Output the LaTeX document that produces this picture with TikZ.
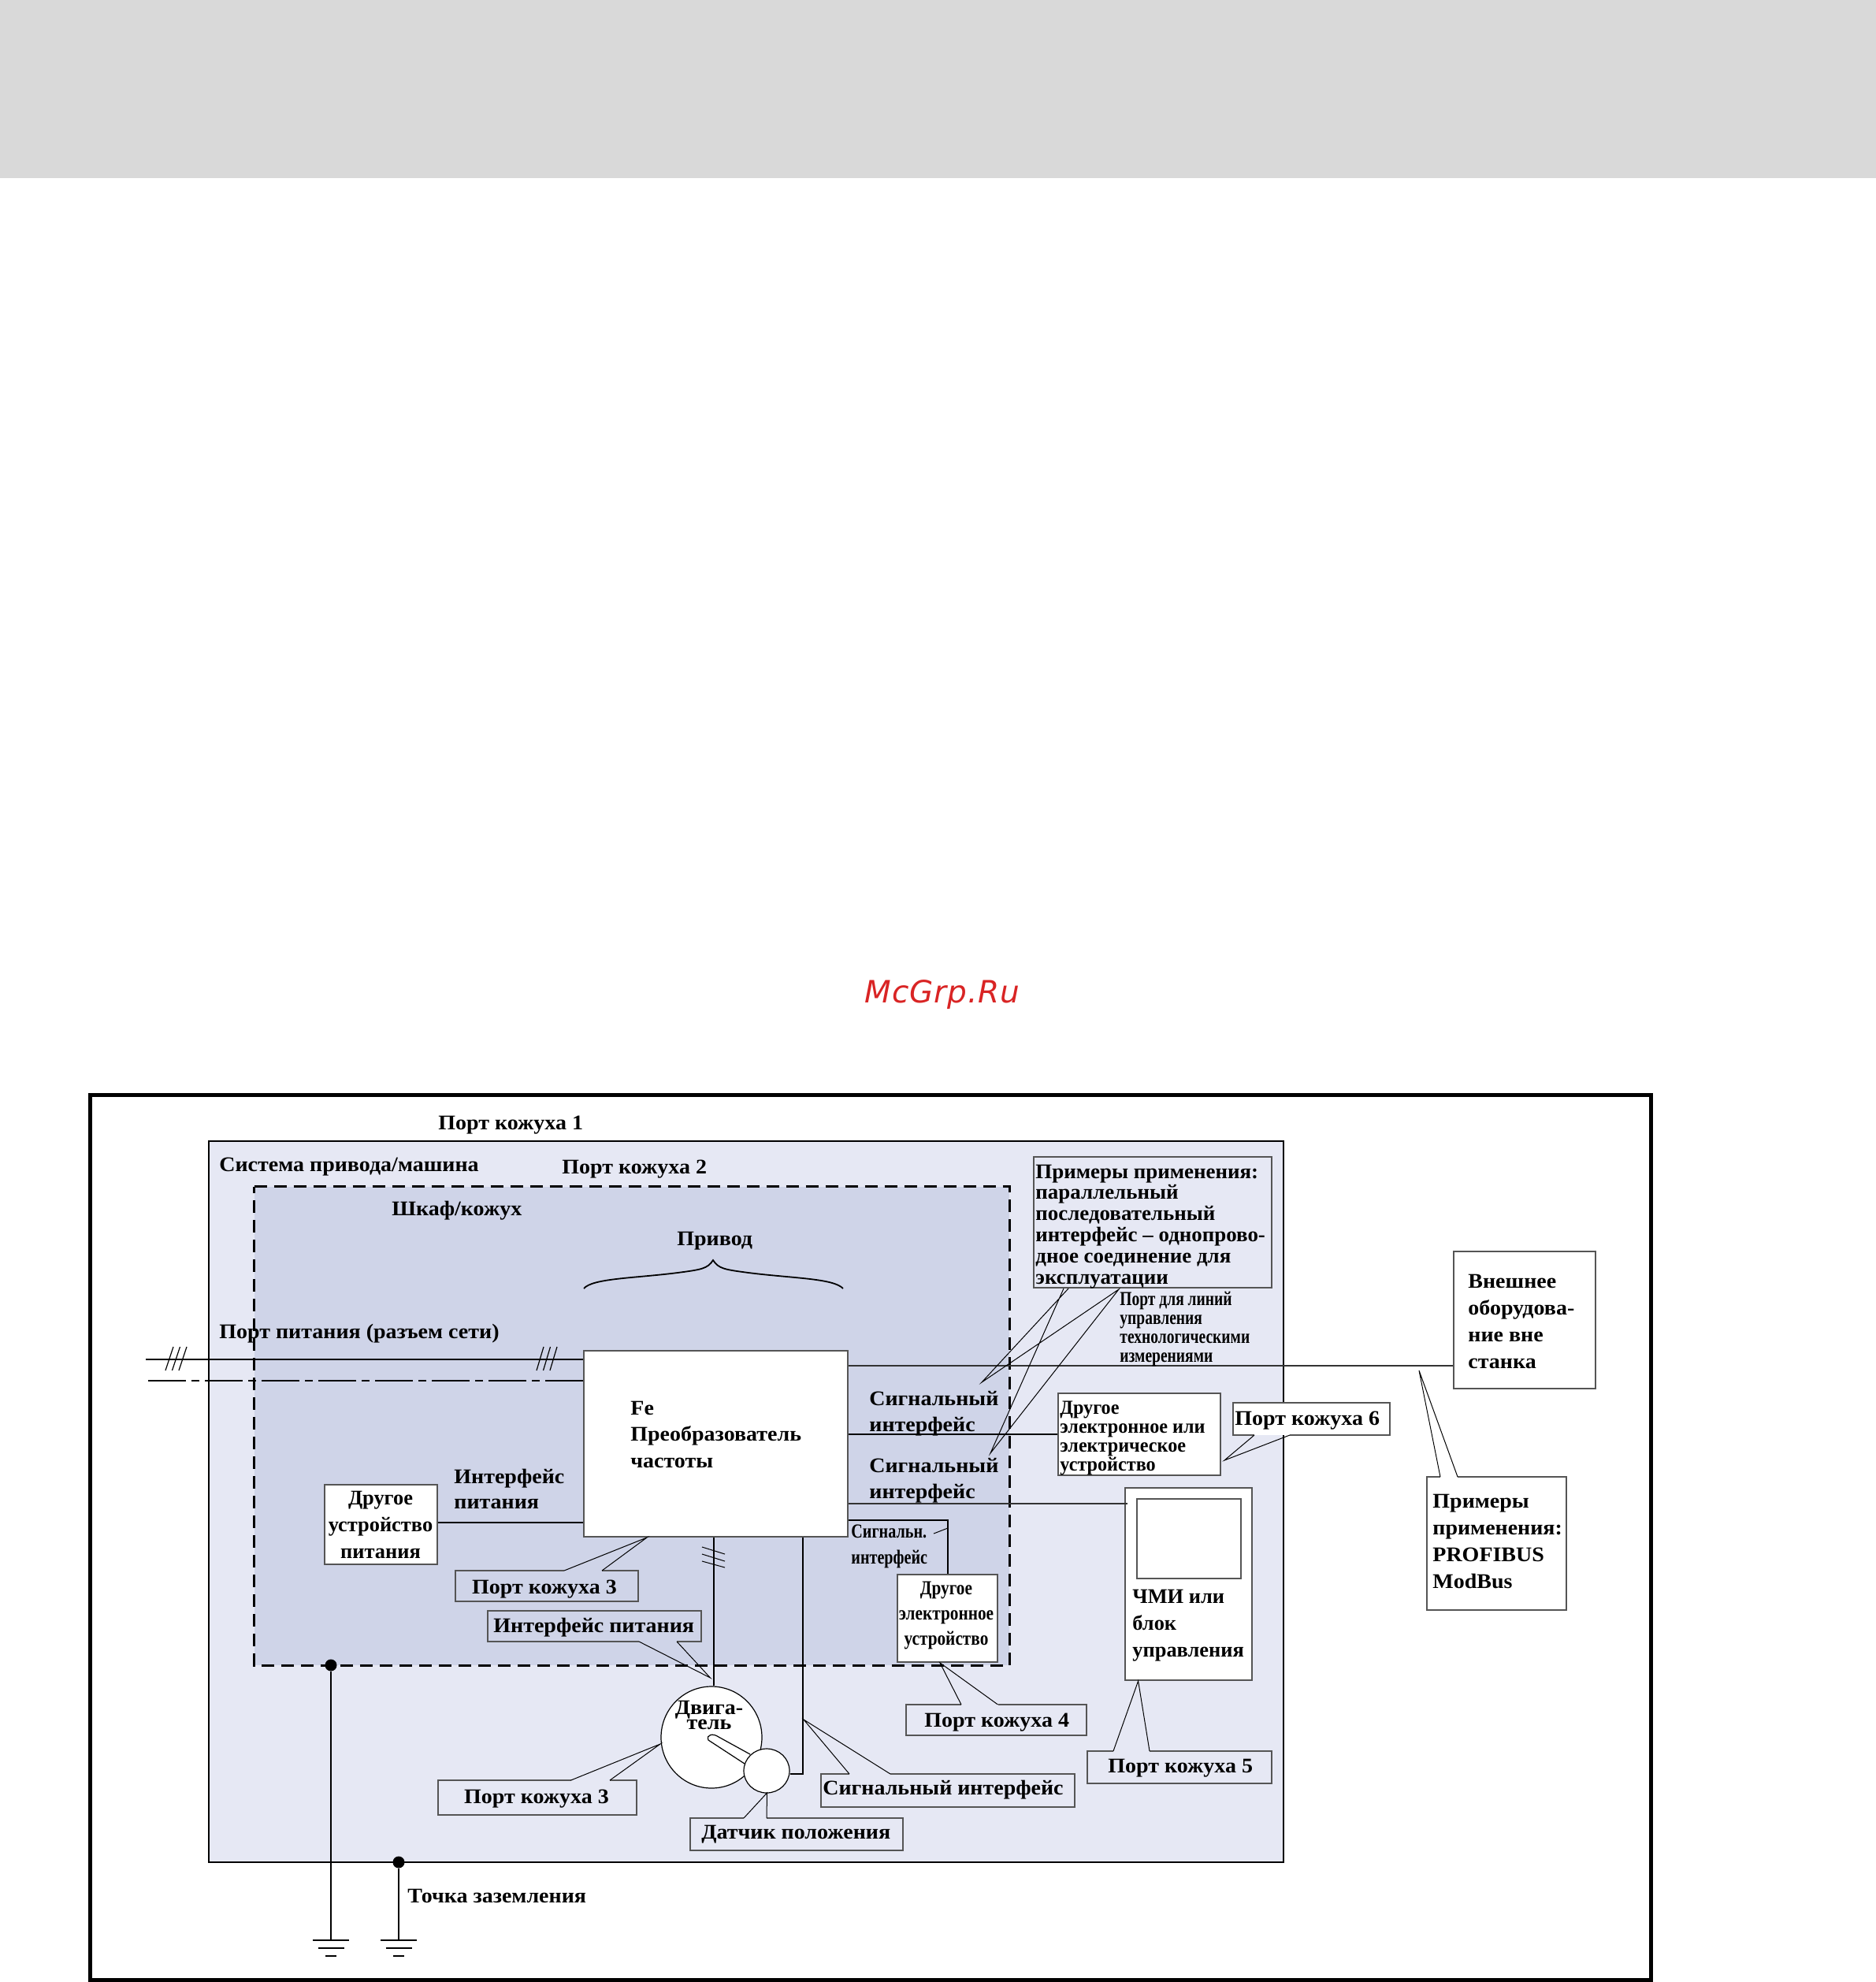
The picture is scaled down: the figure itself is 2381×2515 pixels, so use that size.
\documentclass[tikz,border=0pt]{standalone}
\usepackage{fontspec}
\setmainfont{Liberation Serif}
\newfontfamily\wid[FakeStretch=1.06]{Liberation Serif}
\newfontfamily\wix[FakeStretch=1.02]{Liberation Serif}
\newfontfamily\cnd[FakeStretch=0.8]{Liberation Serif}
\newfontfamily\cndn[FakeStretch=0.775]{Liberation Serif}
\newfontfamily\cndm[FakeStretch=0.845]{Liberation Serif}
\newfontfamily\cndw[FakeStretch=0.96]{Liberation Serif}
\newfontfamily\wmk[LetterSpace=2.5]{DejaVu Sans}
\usetikzlibrary{fit,shapes.geometric}
\definecolor{machinecol}{HTML}{E6E8F4}
\definecolor{cabcol}{HTML}{CFD4E8}
\definecolor{bandcol}{HTML}{D9D9D9}
\definecolor{edgecol}{HTML}{555555}
\definecolor{wmkcol}{HTML}{D92424}
\tikzset{
  rectbox/.style={rectangle,inner sep=0pt,draw=edgecol,line width=1pt,fill=white},
  nofillbox/.style={rectangle,inner sep=0pt},
  lbl/.style={inner sep=0pt,anchor=base west,font=\wid\fontsize{13.2}{16}\selectfont\bfseries},
  lblc/.style={lbl,anchor=base},
  lblp/.style={inner sep=0pt,anchor=base west,font=\fontsize{13.2}{16}\selectfont\bfseries},
  lblpc/.style={lblp,anchor=base},
  lblx/.style={lblp,font=\wix\fontsize{13.2}{16}\selectfont\bfseries},
  sml/.style={inner sep=0pt,anchor=base west,font=\cnd\fontsize{12.6}{15}\selectfont\bfseries},
  smln/.style={sml,font=\cndn\fontsize{12.6}{15}\selectfont\bfseries},
  smlw/.style={sml,font=\cndw\fontsize{12.6}{15}\selectfont\bfseries},
  smlm/.style={sml,anchor=base,font=\cndm\fontsize{12.6}{15}\selectfont\bfseries},
  thickwire/.style={line width=1.25pt,black},
  thinwire/.style={line width=0.8pt,black!80},
  ptr/.style={line width=0.5pt,black},
  edgeline/.style={line width=1pt,edgecol},
  gnd/.style={line width=1.25pt,black}
}
% multi-line block: first baseline at the node's base
\newcommand\lft[2]{\vtop{\baselineskip=#1\lineskiplimit=-100pt\halign{##\hfil\cr #2}}}
\newcommand\ctr[2]{\vtop{\baselineskip=#1\lineskiplimit=-100pt\halign{\hfil##\hfil\cr #2}}}
% pointer on the top / bottom edge: {name}{fill}{x1}{y1}{x2}{y2}{a}{tipx}{tipy}, b in \cb
\newcommand\ctop[9]{%
  \node[nofillbox,fill=#2,fit={(#3,#4)(#5,#6)}] (#1) {};
  \draw[edgeline] (#7,#4) -- (#3,#4) -- (#3,#6) -- (#5,#6) -- (#5,#4) -- (\cb,#4);
  \draw[ptr] (#7,#4) -- (#8,#9) -- (\cb,#4);}
\newcommand\cbot[9]{%
  \node[nofillbox,fill=#2,fit={(#3,#4)(#5,#6)}] (#1) {};
  \draw[edgeline] (#7,#6) -- (#3,#6) -- (#3,#4) -- (#5,#4) -- (#5,#6) -- (\cb,#6);
  \draw[ptr] (#7,#6) -- (#8,#9) -- (\cb,#6);}
\begin{document}
\begin{tikzpicture}[x=0.5pt,y=-0.5pt]
\useasboundingbox (0,0) rectangle (2381,2515);
\fill[white] (0,0) rectangle (2381,2515);
\fill[bandcol] (0,0) rectangle (2381,226);
\node[inner sep=0pt,anchor=base,text=wmkcol,font=\wmk\itshape\fontsize{19.5}{20}\selectfont] (wm) at (1196,1272) {McGrp.Ru};

% frames
\node[nofillbox,draw=black,line width=2.5pt,fit={(114,1389)(2095,2512)}] (frame) {};
\node[nofillbox,draw=black,line width=1.25pt,fill=machinecol,fit={(265,1448)(1629,2363)}] (machine) {};
\node[nofillbox,fill=cabcol,fit={(323,1506)(1281,2113)}] (cabinet) {};
\draw[line width=1.25pt,black,dash pattern=on 8pt off 4.5pt] (cabinet.north west) -- (cabinet.north east) -- (cabinet.south east) -- (cabinet.south west) -- cycle;

% main boxes
\node[rectbox,fit={(741,1714)(1076,1950)}] (fe) {};
\node[rectbox,fit={(412,1884)(555,1985)}] (psu) {};
\node[rectbox,fit={(1343,1768)(1549,1872)}] (elec) {};
\node[rectbox,fit={(1139,1998)(1266,2109)}] (smallel) {};
\node[rectbox,fit={(1428,1888)(1589,2132)}] (hmi) {};
\node[rectbox,fit={(1443,1902)(1575,2003)}] (screen) {};
\node[rectbox,fit={(1845,1588)(2025,1762)}] (ext) {};
\node[nofillbox,draw=edgecol,line width=1pt,fill=machinecol,fit={(1312,1468)(1614,1634)}] (ex) {};

% helper points
\coordinate (pw) at (185,1725);
\coordinate (dd) at (188,1752);
\coordinate (s1) at (0,1733);
\coordinate (s2) at (0,1820);
\coordinate (s3) at (0,1908);
\coordinate (s4) at (0,1929);
\coordinate (pi) at (0,1932);
\coordinate (mv) at (906,0);
\coordinate (sv) at (1019,0);
\coordinate (sh) at (0,2251);
\coordinate (sd) at (1203,0);

% wires
\draw[thickwire] (pw) -- (pw -| fe.west);
\draw[thickwire,dash pattern=on 24pt off 3.5pt on 5pt off 3.5pt] (dd) -- (dd -| fe.west);
\draw[thickwire] (psu.east |- pi) -- (fe.west |- pi);
\draw[thinwire] (fe.east |- s1) -- (ext.west |- s1);
\draw[thickwire] (fe.east |- s2) -- (elec.west |- s2);
\draw[thinwire] (fe.east |- s3) -- (1431,1908);
\draw[thickwire] (fe.east |- s4) -- (sd |- s4) -- (sd |- smallel.north);

% tick marks
\draw[line width=0.6pt] (210,1739) -- (220,1709) (218.5,1739) -- (228.5,1709) (227,1739) -- (237,1709);
\draw[line width=0.6pt] (681,1739) -- (690,1709) (689.5,1739) -- (698.5,1709) (698,1739) -- (707,1709);
\draw[line width=0.5pt] (891,1963) -- (920,1972) (891,1972) -- (920,1981) (891,1981) -- (920,1989);
\draw[ptr] (1185,1946) -- (1203,1939);

% brace
\draw[line width=0.9pt] (741,1635) .. controls (752,1622) and (805,1622) .. (860,1615) .. controls (890,1611) and (898,1610) .. (905,1599) .. controls (912,1610) and (920,1611) .. (950,1615) .. controls (1005,1622) and (1058,1622) .. (1070,1635);

% motor
\node[ellipse,draw=black,line width=0.6pt,fill=white,inner sep=0pt,minimum width=64pt,minimum height=64.5pt] (motor) at (903,2204.5) {};
\draw[line width=0.6pt,fill=white] (952,2226) -- (912,2204) .. controls (905,2199) and (896,2201) .. (899,2208) -- (945,2238);
\node[ellipse,draw=black,line width=0.6pt,fill=white,inner sep=0pt,minimum width=29pt,minimum height=28pt] (sensor) at (973,2247) {};
\draw[thickwire] (mv |- fe.south) -- (mv |- motor.north);
\draw[thickwire] (sv |- fe.south) -- (sv |- sh) -- (sensor.east |- sh);

% ground
\node[circle,fill=black,inner sep=0pt,minimum size=7.5pt] (b1) at (420,2113) {};
\node[circle,fill=black,inner sep=0pt,minimum size=7.5pt] (b2) at (506,2363) {};
\coordinate (g1) at (420,2462);
\coordinate (g2) at (506,2462);
\draw[thickwire] (b1) -- (g1);
\draw[thickwire] (b2) -- (g2);
\draw[gnd] (397,2462) -- (443,2462) (403.5,2472) -- (437,2472);
\draw[line width=0.7pt] (413,2482) -- (427,2482);
\draw[gnd] (483,2462) -- (529,2462) (489.5,2472) -- (523,2472);
\draw[line width=0.7pt] (499,2482) -- (513,2482);

% callouts
\def\cb{764}
\ctop{pk3a}{cabcol}{578}{1993}{810}{2032}{716}{821}{1951}
\def\cb{859}
\cbot{ipit}{cabcol}{619}{2044}{890}{2083}{811}{901.5}{2129}
\def\cb{774}
\ctop{pk3b}{machinecol}{556}{2259}{808}{2303}{724.5}{838}{2213}
\def\cb{1130}
\ctop{sigb}{machinecol}{1042}{2251}{1364}{2293}{1078}{1020}{2182}
\def\cb{973}
\ctop{dpos}{machinecol}{876}{2307}{1146}{2348}{944}{973.5}{2275}
\def\cb{1266.5}
\ctop{pk4}{machinecol}{1150}{2163}{1379}{2202}{1220}{1193}{2110}
\def\cb{1459}
\ctop{pk5}{machinecol}{1380}{2222}{1614}{2263}{1413}{1444.6}{2133}
\def\cb{1637}
\cbot{pk6}{white}{1565}{1780}{1764}{1821}{1592}{1554}{1853}
\def\cb{1850}
\ctop{prof}{white}{1811}{1874}{1988}{2043}{1828}{1801}{1739}

% examples pointers
\coordinate (ea) at (1356,1635);
\coordinate (eb) at (1420,1636);
\coordinate (ec) at (1350,1635);
\coordinate (t1) at (1246,1754);
\coordinate (t2) at (1257,1844);
\draw[ptr] (ea) -- (t1) -- (eb) -- (t2) -- (ec);

% texts
\node[lbl] (t01) at (556,1433) {Порт кожуха 1};
\node[lbl] (t02) at (278,1486) {Система привода/машина};
\node[lbl] (t03) at (713,1489) {Порт кожуха 2};
\node[lbl] (t04) at (497,1542) {Шкаф/кожух};
\node[lbl] (t05) at (859,1580) {Привод};
\node[lbl] (t06) at (278,1698) {Порт питания (разъем сети)};
\node[lbl] (t07) at (800,1795) {\lft{16.8pt}{Fe\cr Преобразователь\cr частоты\cr}};
\node[lbl] (t08) at (576,1882) {\lft{16.2pt}{Интерфейс\cr питания\cr}};
\node[lblpc] (t09) at (483,1909) {\ctr{17pt}{Другое\cr устройство\cr питания\cr}};
\node[lbl] (t10) at (1103,1783) {\lft{16.5pt}{Сигнальный\cr интерфейс\cr}};
\node[lbl] (t11) at (1103,1868) {\lft{16.5pt}{Сигнальный\cr интерфейс\cr}};
\node[sml] (t12) at (1080,1951) {\lft{16.5pt}{Сигнальн.\cr интерфейс\cr}};
\node[smlm] (t13) at (1201,2023) {\ctr{16pt}{Другое\cr электронное\cr устройство\cr}};
\node[lblc] (t14) at (691,2022) {Порт кожуха 3};
\node[lbl] (t15) at (626,2071) {Интерфейс питания};
\node[lblc] (t16) at (900,2175) {\ctr{9.5pt}{Двига-\cr тель\cr}};
\node[lblc] (t17) at (681,2288) {Порт кожуха 3};
\node[lbl] (t18) at (1044,2277) {Сигнальный интерфейс};
\node[lbl] (t19) at (890,2333) {Датчик положения};
\node[lbl] (t20) at (1173,2191) {Порт кожуха 4};
\node[lbl] (t21) at (1406,2249) {Порт кожуха 5};
\node[lblp] (t22) at (1437,2034) {\lft{17pt}{ЧМИ или\cr блок\cr управления\cr}};
\node[lbl] (t23) at (1567,1808.5) {Порт кожуха 6};
\node[smlw] (t24) at (1345,1794) {\lft{12pt}{Другое\cr электронное или\cr электрическое\cr устройство\cr}};
\node[lblx] (t25) at (1314,1495) {\lft{13.4pt}{Примеры применения:\cr параллельный\cr последовательный\cr интерфейс – однопрово-\cr дное соединение для\cr эксплуатации\cr}};
\node[smln] (t26) at (1421,1656) {\lft{12pt}{Порт для линий\cr управления\cr технологическими\cr измерениями\cr}};
\node[lbl] (t27) at (1863,1634) {\lft{17pt}{Внешнее\cr оборудова-\cr ние вне\cr станка\cr}};
\node[lbl] (t28) at (1818,1913) {\lft{17pt}{Примеры\cr применения:\cr PROFIBUS\cr ModBus\cr}};
\node[lbl] (t29) at (517,2414) {Точка заземления};
\end{tikzpicture}
\end{document}
